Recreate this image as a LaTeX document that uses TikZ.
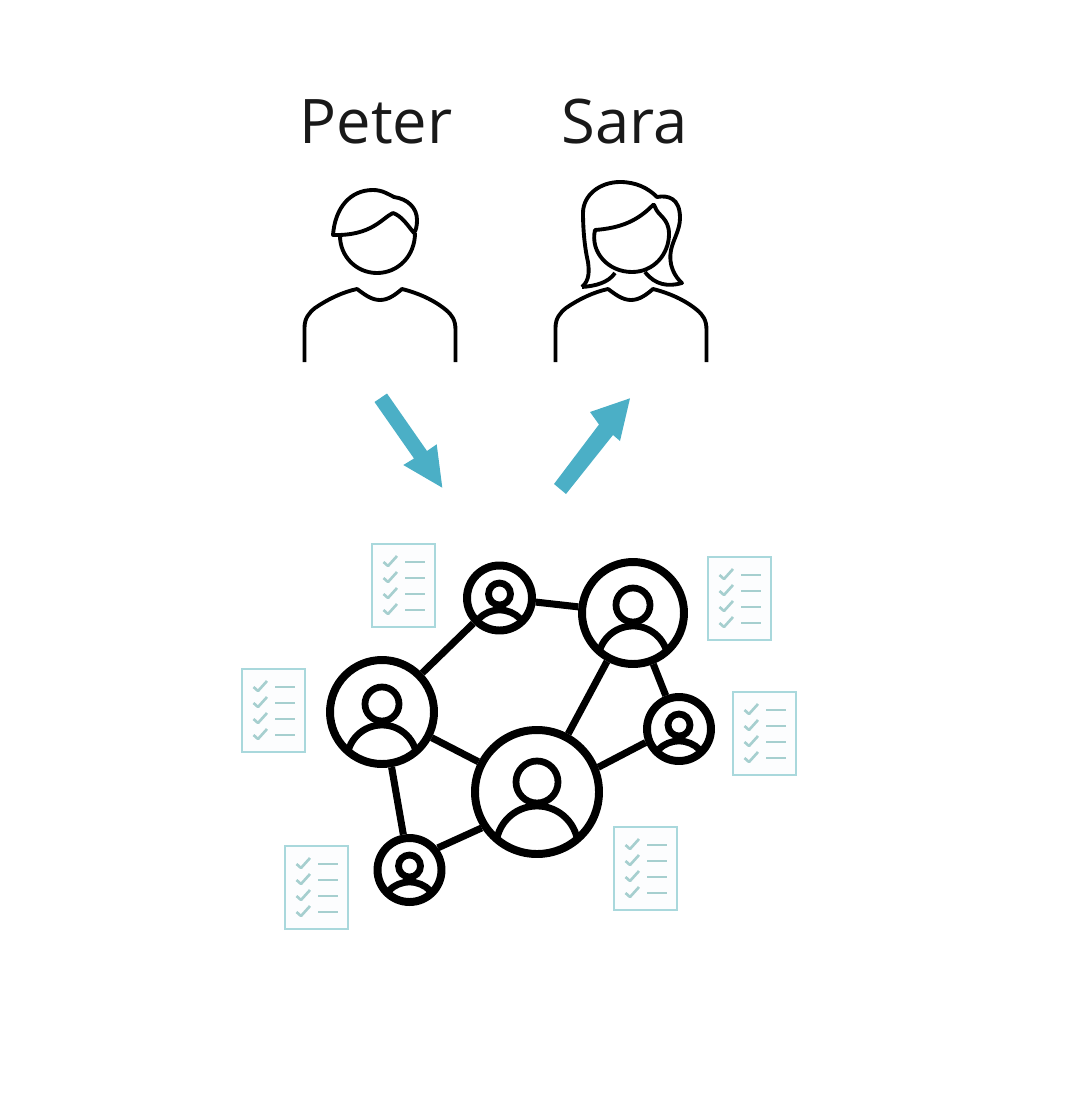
\documentclass[tikz,border=0pt]{standalone}
\usepackage{fontspec}
\setmainfont{Open Sans}
\definecolor{arrowteal}{HTML}{4BAFC6}
\definecolor{listteal}{HTML}{A9D8DC}
\definecolor{tickteal}{HTML}{A6CFCF}
\tikzset{
  px/.style={x=0.02cm,y=-0.02cm},
  namelabel/.style={font=\fontsize{35}{40}\selectfont,inner sep=0pt,text=black!90},
  iconline/.style={draw=black,line width=2.2pt,line join=round,line cap=butt},
  netline/.style={draw=black,line width=4pt},
  bigarrow/.style={fill=arrowteal,draw=none},
  sheet/.style={draw=listteal,fill=listteal!4,line width=1.6pt,rectangle,outer sep=0pt,minimum width=1.26cm,minimum height=1.66cm,inner sep=0pt},
  tickmark/.style={draw=tickteal,line width=1.5pt,line join=round},
  rowline/.style={draw=tickteal,line width=1.5pt},
}
% #1 name, #2 x, #3 y, #4 radius, #5 line width(px), #6 head offset, #7 head r, #8 shoulder centre offset, #9 shoulder r
\newcommand{\netnode}[9]{%
  \node[circle,draw=black,line width=#5*0.567pt,inner sep=0pt,minimum size={2*#4*0.02cm}] (#1) at (#2,#3) {};
  \begin{scope}
    \clip (#2,#3) circle [x radius=#4,y radius=#4];
    \draw[line width={(#5-1.2)*0.567pt}] ([yshift={-(#8)*0.02cm}]#2,#3) circle [x radius=#9,y radius=#9];
  \end{scope}
  \draw[line width={(#5-1.2)*0.567pt}] ([yshift={-(#6)*0.02cm}]#2,#3) circle [x radius=#7,y radius=#7];
}
% checklist: #1 name, #2 left, #3 top
\newcommand{\checklist}[3]{%
  \node[sheet,anchor=north west] (#1) at (#2,#3) {};
  \foreach \r in {18,34,50,66}{
    \draw[tickmark] ([shift={(11.5*0.02cm,{-(\r)*0.02cm})}]#1.north west) -- ++(4.5,4) -- ++(9,-10);
    \draw[rowline] ([shift={(33*0.02cm,{-(\r)*0.02cm})}]#1.north west) -- ++(20,0);
  }
}
% shoulders shifted by #1
\newcommand{\bodyline}[1]{%
  \draw[iconline,shift={(#1*0.02cm,0)}] (304.5,362) -- (304.5,328)
    .. controls (304.5,318) and (309,313) .. (315,308)
    .. controls (328,299) and (343,292) .. (357,289)
    .. controls (364,294) and (371,300) .. (380,300)
    .. controls (389,300) and (396,294) .. (402,289)
    .. controls (418,293) and (434,300) .. (446,310)
    .. controls (452,315) and (455.5,320) .. (455.5,330)
    -- (455.5,362);
}
\begin{document}
\begin{tikzpicture}[px]
\useasboundingbox (0,0) rectangle (1080,1105);
\node[namelabel] (peter) at (376,121.5) {Peter};
\node[namelabel] (sara) at (625,121.5) {Sara};

% Peter
\bodyline{0}
\draw[iconline] (340,236) .. controls (340,256) and (356,273) .. (377,273)
  .. controls (398,273) and (415,256) .. (415,233);
\draw[iconline] (333,235) .. controls (335,208) and (350,190) .. (373,190)
  .. controls (382,190) and (388,194) .. (394,197)
  .. controls (408,199) and (417,208) .. (417,220)
  .. controls (417,226) and (416,230) .. (414,233)
  .. controls (408,226) and (402,216) .. (393,213)
  .. controls (382,218) and (372,236) .. (333,235) -- cycle;

% Sara
\bodyline{251}
\draw[iconline] (595,230) .. controls (590,252) and (608,272) .. (632,272)
  .. controls (654,272) and (669,254) .. (669,234)
  .. controls (669,218) and (658,216) .. (655,207)
  .. controls (654,204) and (653,204) .. (652,206)
  .. controls (638,220) and (622,228) .. (595,230) -- cycle;
\draw[iconline] (582,287) .. controls (590,280) and (589,270) .. (588,262)
  .. controls (584,245) and (583,225) .. (583,213)
  .. controls (583,195) and (600,182) .. (620,182)
  .. controls (636,182) and (648,188) .. (657,197)
  .. controls (668,195) and (680,198) .. (680,218)
  .. controls (680,230) and (673,240) .. (671,250)
  .. controls (668,265) and (675,277) .. (682,283)
  .. controls (668,287) and (655,285) .. (645,272);
\draw[iconline] (582,287) .. controls (595,286) and (608,283) .. (615,273);

% arrows
\path[bigarrow] (374.5,402) -- (387,393.5) -- (427,451) -- (436.7,444.3) -- (442.3,487.7) -- (403.3,465) -- (414,458.5) -- cycle;
\path[bigarrow] (554,484) -- (566,494) -- (613,435) -- (620,441) -- (630,398.3) -- (590,412) -- (599,424.5) -- cycle;

% network
\netnode{hub}{537}{792}{62}{8}{-10}{21}{55}{41}
\netnode{left}{382}{712}{52}{8}{-8}{17}{48}{35}
\netnode{tr}{633}{613}{51}{8}{-8}{17}{48}{35}
\netnode{top}{499.5}{598}{32.5}{8}{-4}{11}{41}{29}
\netnode{right}{679}{729}{32}{8}{-4}{11}{41}{29}
\netnode{bot}{409.5}{870}{32}{8}{-4}{11}{41}{29}
\draw[netline] (left) -- (top);
\draw[netline] (top) -- (tr);
\draw[netline] (hub) -- (tr);
\draw[netline] (tr) -- (right);
\draw[netline] (hub.22) -- (right.202);
\draw[netline] (left) -- (hub);
\draw[netline] (left) -- (bot);
\draw[netline] (bot.38) -- (hub.213);

% checklists
\checklist{la}{372}{544}
\checklist{lb}{708}{557}
\checklist{lc}{733}{692}
\checklist{ld}{242}{669}
\checklist{le}{285}{846}
\checklist{lf}{614}{827}
\end{tikzpicture}
\end{document}
